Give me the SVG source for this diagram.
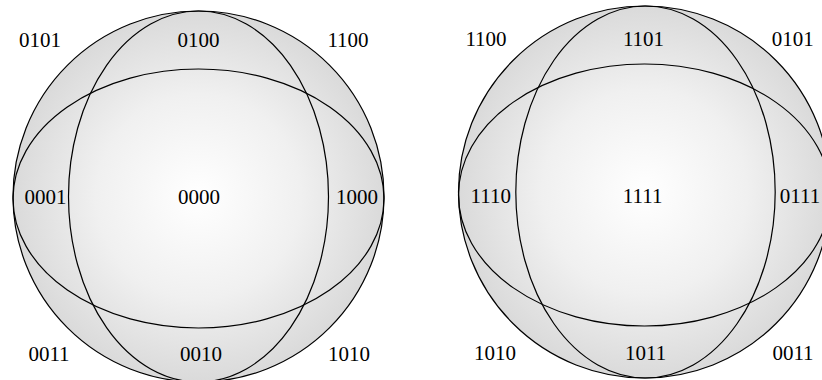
<svg xmlns="http://www.w3.org/2000/svg" width="822" height="380" viewBox="0 0 822 380">
<defs>
<radialGradient id="g" cx="0.5" cy="0.5" r="0.5">
<stop offset="0" stop-color="#ffffff"/>
<stop offset="0.55" stop-color="#f0f0f0"/>
<stop offset="1" stop-color="#dadada"/>
</radialGradient>
</defs>
<style>
.s{fill:url(#g);stroke:#000;stroke-width:1.2}
.e{fill:none;stroke:#000;stroke-width:1.2}
text{font-family:"Liberation Serif","Times New Roman",serif;font-size:21px;fill:#000;text-anchor:middle}
</style>
<rect width="822" height="380" fill="#fff"/>
<g id="sphere-left">
<circle class="s" cx="198.5" cy="196.5" r="185.5"/>
<g id="connectors-left">
<ellipse class="e" cx="198.5" cy="196.5" rx="130" ry="185.5"/>
<ellipse class="e" cx="198.5" cy="198.5" rx="185.5" ry="129.5"/>
</g>
<text x="40" y="47">0101</text>
<text x="198.5" y="47">0100</text>
<text x="348" y="47">1100</text>
<text x="45.5" y="203.5">0001</text>
<text x="199" y="203.5">0000</text>
<text x="357" y="203.5">1000</text>
<text x="49" y="361">0011</text>
<text x="201" y="361">0010</text>
<text x="349" y="361">1010</text>
</g>
<g id="sphere-right">
<circle class="s" cx="644.5" cy="192" r="186"/>
<g id="connectors-right">
<ellipse class="e" cx="645.5" cy="192" rx="129.7" ry="186"/>
<ellipse class="e" cx="644.5" cy="195" rx="186" ry="131"/>
</g>
<text x="486" y="46">1100</text>
<text x="643.5" y="46">1101</text>
<text x="792.7" y="46">0101</text>
<text x="490.7" y="203">1110</text>
<text x="642.7" y="203">1111</text>
<text x="800" y="203">0111</text>
<text x="495" y="360">1010</text>
<text x="645.7" y="360">1011</text>
<text x="793" y="360">0011</text>
</g>
</svg>
